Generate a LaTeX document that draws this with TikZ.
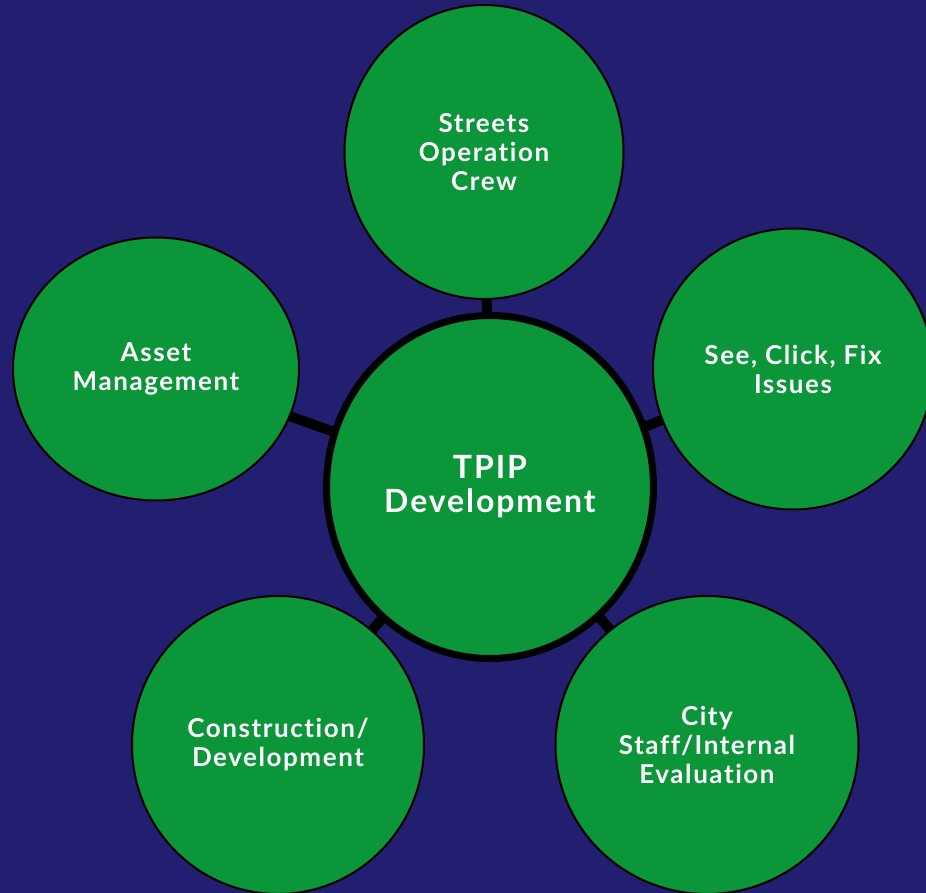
\documentclass[tikz,border=0pt]{standalone}
\usepackage{fontspec}
\setmainfont{Lato}
\newfontfamily\bubblefont{Lato}[LetterSpace=6, Ligatures={NoCommon}]
\usepackage{tikz}
\usetikzlibrary{shapes.geometric}
\usetikzlibrary{backgrounds}
\definecolor{navy}{RGB}{34,30,112}
\definecolor{leafgreen}{RGB}{11,150,58}

\begin{document}
\begin{tikzpicture}[x=1pt, y=-1pt,
		bubble/.style={ellipse, draw=black, line width=2pt, fill=leafgreen, text=white, align=center, inner sep=0pt, font=\bubblefont\bfseries\fontsize{26}{29}\selectfont},
		hub/.style={bubble, line width=7pt, font=\bubblefont\bfseries\fontsize{32}{34}\selectfont},
		link/.style={draw=black, line width=10pt}]
				% Bubbles and links:
				\useasboundingbox (0, 0) rectangle (926, 893);
				\node[hub, minimum width=327pt, minimum height=343pt](tpip) at (490, 487){TPIP\\Development};
				\node[bubble, minimum width=279pt, minimum height=294pt](streets) at (484, 152){Streets\\Operation\\Crew};
				\node[bubble, minimum width=286pt, minimum height=263pt](asset) at (156, 369){Asset\\Management};
				\node[bubble, minimum width=280pt, minimum height=281pt](seeclick) at (793, 369){See, Click, Fix\\Issues};
				\node[bubble, minimum width=292pt, minimum height=298pt](construct) at (278, 745){Construction/\\Development};
				\node[bubble, minimum width=303pt, minimum height=298pt](citystaff) at (707, 745){City\\Staff/Internal\\Evaluation};
				\begin{scope}[on background layer]
				\fill[navy] (0, 0) rectangle (926, 893);
				\draw[link] (tpip.center) -- (streets.center);
				\draw[link] (tpip.center) -- (asset.center);
				\draw[link] (tpip.center) -- (seeclick.center);
				\draw[link] (tpip.center) -- (construct.center);
				\draw[link] (tpip.center) -- (citystaff.center);
				\end{scope}
			\end{tikzpicture}
\end{document}
